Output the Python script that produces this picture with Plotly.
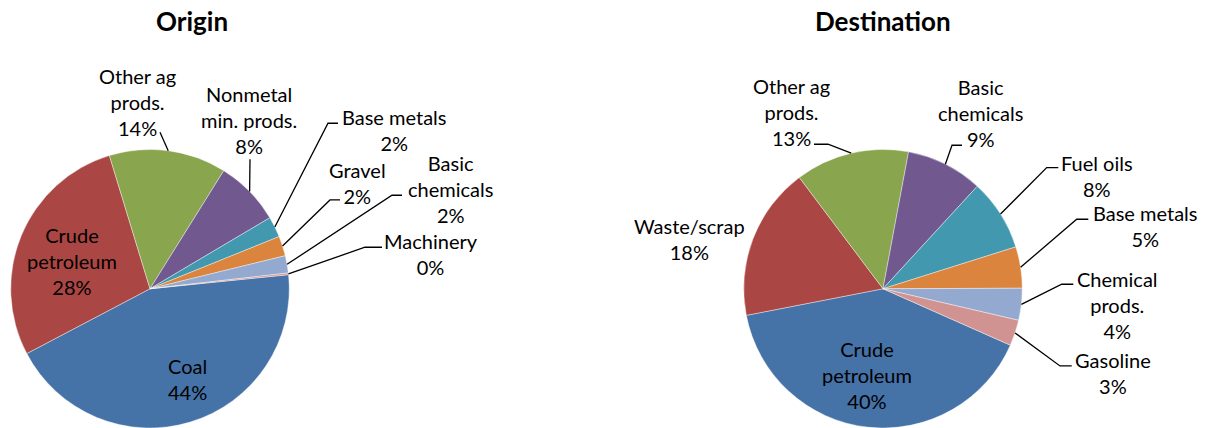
import plotly.graph_objects as go
import math

W, H = 1209, 428

# ---- data ----
origin_labels = ["Coal", "Crude<br>petroleum", "Other ag<br>prods.", "Nonmetal<br>min. prods.",
                 "Base metals", "Gravel", "Basic<br>chemicals", "Machinery"]
origin_values = [43.9, 28.0, 13.6, 7.6, 2.4, 2.3, 2.0, 0.2]

dest_labels = ["Crude<br>petroleum", "Waste/scrap", "Other ag<br>prods.", "Basic<br>chemicals",
               "Fuel oils", "Base metals", "Chemical<br>prods.", "Gasoline"]
dest_values = [40.3, 17.8, 13.2, 8.9, 8.3, 4.8, 3.7, 3.0]

colors = ["#4572A7", "#AA4643", "#89A54E", "#71588F", "#4198AF", "#DB843D", "#93A9CF", "#D19392"]

FONT = "Lato, 'Open Sans', sans-serif"
LABEL_SIZE = 20

# ---- layout of each pie: centre (px), start angle, label placement ----
# label offsets are (dx, dy) in px from the pie centre, y pointing down;
# leader waypoints follow the rim point of the slice's mid-angle
pies = [
    dict(title="Origin", title_x=191.7, values=origin_values, labels=origin_labels,
         cx=150, rotation=84.2,
         text=[(37, 90), (-78, -27.5), (-13, -186.5), (99, -169),
               (244, -159), (207, -106), (300, -99.5), (281, -35)],
         leader=[None, None, [(10, -156.5)], [(100, -129.5)],
                 [(178, -165.5), (188, -165.5)], [(180, -88.8), (190, -88.8)],
                 [(242, -93.5), (252, -93.5)], [(215, -41.5), (232, -41.5)]]),
    dict(title="Destination", title_x=883, values=dest_values, labels=dest_labels,
         cx=883, rotation=113.9,
         text=[(-16, 86.5), (-193, -49.5), (-92, -176.5), (97, -176.2),
               (213.5, -113), (261.5, -62.5), (234.5, 16.2), (229.5, 84.2)],
         leader=[None, None, [(-55, -144.5), (-69, -144.5)], [(69, -143.5), (79, -143.5)],
                 [(163.7, -121.2), (175.3, -121.2)], [(193.7, -69.5), (205.3, -69.5)],
                 [(178.7, -4.5), (190.3, -4.5)], [(177, 77.2), (188.7, 77.2)]]),
]

TOP = 149.5                # top edge of both pies (px)
R = (H - TOP) / 2          # radius set by the vertical domain
CY = TOP + R


def px(x, y):
    return x / W, 1 - y / H


fig = go.Figure()
annotations = []
shapes = []

for p in pies:
    cx = p["cx"]
    fig.add_trace(go.Pie(
        values=p["values"],
        labels=[l.replace("<br>", " ") for l in p["labels"]],
        marker=dict(colors=colors, line=dict(color="white", width=0.4)),
        sort=False, direction="clockwise", rotation=p["rotation"],
        textinfo="none", showlegend=False,
        domain=dict(x=[(cx - R - 5) / W, (cx + R + 5) / W], y=[0, 1 - TOP / H]),
    ))

    total = sum(p["values"])
    start = p["rotation"]
    for i, v in enumerate(p["values"]):
        span = 360 * v / total
        mid = math.radians(start + span / 2)
        start += span
        pct = round(100 * v / total)

        tx, ty = p["text"][i]
        x, y = px(cx + tx, CY + ty)
        annotations.append(dict(
            x=x, y=y, xref="paper", yref="paper", xanchor="center", yanchor="middle",
            text=f"{p['labels'][i]}<br>{pct}%", showarrow=False, align="center",
            font=dict(family=FONT, size=LABEL_SIZE, color="#000000"),
        ))

        if p["leader"][i]:
            pts = [(cx + R * math.sin(mid), CY - R * math.cos(mid))]
            pts += [(cx + dx, CY + dy) for dx, dy in p["leader"][i]]
            path = ""
            for k, (lx, ly) in enumerate(pts):
                ux, uy = px(lx, ly)
                path += ("M" if k == 0 else " L") + f" {ux:.5f} {uy:.5f}"
            shapes.append(dict(type="path", path=path, xref="paper", yref="paper",
                               line=dict(color="#000000", width=1.3)))

    tx, ty = px(p["title_x"], 21.5)
    annotations.append(dict(
        x=tx, y=ty, xref="paper", yref="paper", xanchor="center", yanchor="middle",
        text=f"<b>{p['title']}</b>", showarrow=False,
        font=dict(family=FONT, size=26, color="#000000"),
    ))

fig.update_layout(
    width=W, height=H,
    margin=dict(l=0, r=0, t=0, b=0),
    paper_bgcolor="white", plot_bgcolor="white",
    annotations=annotations, shapes=shapes,
)

fig.write_html("out.html")
